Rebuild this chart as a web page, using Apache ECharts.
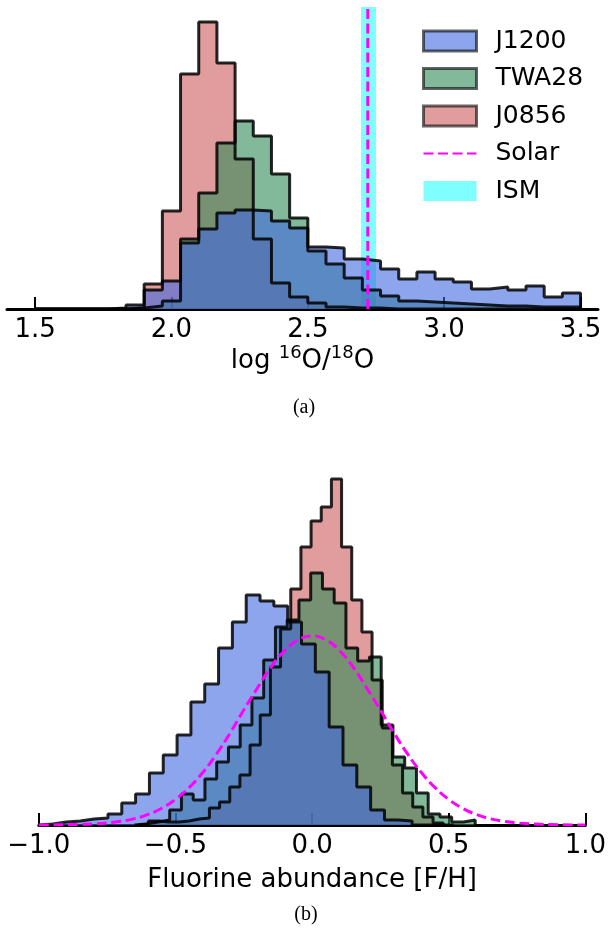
<!DOCTYPE html>
<html>
<head>
<meta charset="utf-8">
<script src="https://cdn.jsdelivr.net/npm/echarts@6/dist/echarts.min.js"></script>
<style>
  html, body { margin: 0; padding: 0; background: #fff; }
  #main { width: 609px; height: 935px; }
</style>
</head>
<body>
<div id="main"></div>
<script>
// ---- panel (a): log 16O/18O, common bins of width 1/15 from 1.5 ----
var binStartA = 1.5;
var binWidthA = 1 / 15;
var j1200A = [0, 0, 0, 0, 1, 4, 19, 28, 66, 80, 96, 99, 98, 88, 81, 62, 61, 50, 48, 40, 30, 37, 30, 27, 20, 22, 19, 23, 12, 16];
var twa28A = [0, 0, 0, 0, 0, 1, 3, 8, 70, 116, 166, 188, 173, 135, 91, 58, 45, 31, 19, 13, 8, 7, 6, 5, 4, 3, 3, 2, 2, 2];
var j0856A = [0, 0, 0, 0, 0, 1, 25, 98, 235, 287, 246, 150, 70, 26, 12, 6, 2, 1, 1, 0, 0, 0, 0, 0, 0, 0, 0, 0, 0, 0];
var solarO = 2.72;
var ismO = [2.695, 2.75];
var ticksA = [1.5, 2.0, 2.5, 3.0, 3.5];

// ---- panel (b): [F/H], each sample has its own bins ----
var j1200B = { start: -1.0, width: 0.0506, h: [1, 3, 4, 6, 7, 11, 22, 31, 52, 70, 90, 123, 141, 177, 203, 230, 224, 219, 203, 181, 153, 98, 60, 38, 15, 5, 4, 0, 0, 0] };
var twa28B = { start: -0.65, width: 0.043, h: [1, 3, 5, 15, 31, 25, 46, 63, 78, 100, 127, 165, 198, 205, 225, 252, 236, 222, 177, 164, 168, 100, 68, 57, 32, 11, 8, 3, 5] };
var j0856B = { start: -0.636, width: 0.0372, h: [1, 4, 3, 3, 4, 6, 7, 17, 23, 38, 50, 80, 110, 158, 196, 236, 278, 304, 318, 346, 278, 225, 193, 145, 97, 60, 32, 18, 8, 2] };
// solar curve
var solarX = [-1.0, -0.95, -0.9, -0.85, -0.8, -0.75, -0.7, -0.65, -0.6, -0.55, -0.5, -0.45, -0.4, -0.35, -0.3, -0.25, -0.2, -0.15, -0.1, -0.05, 0.0,
              0.05, 0.1, 0.15, 0.2, 0.25, 0.3, 0.35, 0.4, 0.45, 0.5, 0.55, 0.6, 0.65, 0.7, 0.75, 0.8, 0.85, 0.9, 0.95, 1.0];
var solarY = [0.1, 0.1, 0.3, 0.6, 1.1, 2.1, 3.7, 6.4, 10.6, 16.8, 25.6, 37.4, 52.5, 70.8, 92, 115, 137, 158, 174.5, 185.3, 189,
              185.3, 174.5, 158, 137, 115, 92, 70.8, 52.5, 37.4, 25.6, 16.8, 10.6, 6.4, 3.7, 2.1, 1.1, 0.6, 0.3, 0.1, 0.1];
var ticksB = [-1.0, -0.5, 0.0, 0.5, 1.0];

var names = ['J1200', 'TWA28', 'J0856'];
var fills = ['rgba(65,105,225,0.6)', 'rgba(46,139,87,0.6)', 'rgba(205,92,92,0.6)'];
var yMaxA = 302, yMaxB = 363;
var font = 'DejaVu Sans';
var dash = { color: '#ff00ff', width: 3, type: [10, 4.5] };

function stepPoints(start, width, h) {
  var pts = [[start, 0]];
  for (var i = 0; i < h.length; i++) {
    pts.push([start + i * width, h[i]]);
    pts.push([start + (i + 1) * width, h[i]]);
  }
  pts.push([start + h.length * width, 0]);
  return pts;
}

function histSeries(name, fill, pts, idx) {
  return {
    name: name, type: 'line', xAxisIndex: idx, yAxisIndex: idx,
    data: pts, symbol: 'none', silent: true,
    lineStyle: { color: 'rgba(0,0,0,0.85)', width: 3 },
    itemStyle: { color: fill },
    areaStyle: { color: fill, opacity: 1 }
  };
}

var myChart = echarts.init(document.getElementById('main'));

// draw J0856 first, J1200 last (on top)
var series = [];
[j1200A, twa28A, j0856A].forEach(function (h, i) {
  series.unshift(histSeries(names[i], fills[i], stepPoints(binStartA, binWidthA, h), 0));
});
series.push({
  name: 'ISM', type: 'line', xAxisIndex: 0, yAxisIndex: 0, z: 3,
  data: [[ismO[0], 0]], symbol: 'none', lineStyle: { width: 0 },
  itemStyle: { color: 'rgba(0,255,255,0.5)' },
  markArea: {
    silent: true,
    itemStyle: { color: 'rgba(0,255,255,0.5)' },
    data: [[{ xAxis: ismO[0], yAxis: 0 }, { xAxis: ismO[1], yAxis: yMaxA }]]
  }
});
series.push({
  name: 'Solar', type: 'line', xAxisIndex: 0, yAxisIndex: 0, z: 4,
  data: [[solarO, 0], [solarO, yMaxA]], symbol: 'none',
  itemStyle: { color: '#ff00ff' },
  lineStyle: dash
});
var histB = [];
[j1200B, twa28B, j0856B].forEach(function (b, i) {
  histB.unshift(histSeries(names[i], fills[i], stepPoints(b.start, b.width, b.h), 1));
});
series = series.concat(histB);
series.push({
  name: 'Solar', type: 'line', xAxisIndex: 1, yAxisIndex: 1, z: 4,
  data: solarX.map(function (x, i) { return [x, solarY[i]]; }),
  symbol: 'none', smooth: true,
  itemStyle: { color: '#ff00ff' },
  lineStyle: dash
});

function axisCommon() {
  return {
    type: 'value',
    axisLine: { lineStyle: { color: '#000', width: 3 } },
    axisTick: { inside: true, length: 12, lineStyle: { color: '#000', width: 2 } },
    axisLabel: { color: '#000', fontSize: 26, fontFamily: font, margin: 8 },
    splitLine: { show: false },
    nameLocation: 'middle',
    nameTextStyle: { color: '#000', fontSize: 26, fontFamily: font }
  };
}

var xa = axisCommon();
xa.gridIndex = 0;
xa.min = 1.397;
xa.max = 3.564;
xa.axisTick.customValues = ticksA;
xa.axisLabel.customValues = ticksA;
xa.axisLabel.formatter = function (v) { return v.toFixed(1); };
xa.name = '{a|log }{s|16}{a|O/}{s|18}{a|O}';
xa.nameGap = 33;
xa.nameTextStyle.rich = {
  a: { fontSize: 26, fontFamily: font, color: '#000', lineHeight: 34 },
  s: { fontSize: 18, fontFamily: font, color: '#000', verticalAlign: 'top', lineHeight: 22 }
};

var xb = axisCommon();
xb.gridIndex = 1;
xb.min = -1;
xb.max = 1;
xb.interval = 0.5;
xb.axisLabel.showMinLabel = true;
xb.axisLabel.showMaxLabel = true;
xb.axisLabel.formatter = function (v) { return (v < 0 ? '\u2212' : '') + Math.abs(v).toFixed(1); };
xb.name = 'Fluorine abundance [F/H]';
xb.nameGap = 42;

option = {
  backgroundColor: '#fff',
  animation: false,
  grid: [
    { left: 7, top: 7, width: 591, height: 302 },
    { left: 38.8, top: 462, width: 548.4, height: 363 }
  ],
  xAxis: [xa, xb],
  yAxis: [
    { gridIndex: 0, type: 'value', min: 0, max: yMaxA, show: false },
    { gridIndex: 1, type: 'value', min: 0, max: yMaxB, show: false }
  ],
  legend: {
    orient: 'vertical',
    left: 422,
    top: 28.5,
    padding: 0,
    itemWidth: 53,
    itemHeight: 20,
    itemGap: 12.5,
    textStyle: { color: '#000', fontSize: 25, fontFamily: font, padding: [0, 0, 0, 14] },
    data: [
      { name: 'J1200', icon: 'rect', itemStyle: { color: fills[0], borderColor: 'rgba(0,0,0,0.6)', borderWidth: 3 } },
      { name: 'TWA28', icon: 'rect', itemStyle: { color: fills[1], borderColor: 'rgba(0,0,0,0.6)', borderWidth: 3 } },
      { name: 'J0856', icon: 'rect', itemStyle: { color: fills[2], borderColor: 'rgba(0,0,0,0.6)', borderWidth: 3 } },
      { name: 'Solar', itemStyle: { opacity: 0 } },
      { name: 'ISM', icon: 'rect', itemStyle: { color: 'rgba(0,255,255,0.5)', borderWidth: 0 } }
    ]
  },
  graphic: [
    { type: 'text', x: 304, y: 408, style: { text: '(a)', fontSize: 20, fontFamily: 'Liberation Serif', fill: '#000', align: 'center', verticalAlign: 'middle' } },
    { type: 'text', x: 306, y: 915, style: { text: '(b)', fontSize: 20, fontFamily: 'Liberation Serif', fill: '#000', align: 'center', verticalAlign: 'middle' } }
  ],
  series: series
};
myChart.setOption(option);
</script>
</body>
</html>
